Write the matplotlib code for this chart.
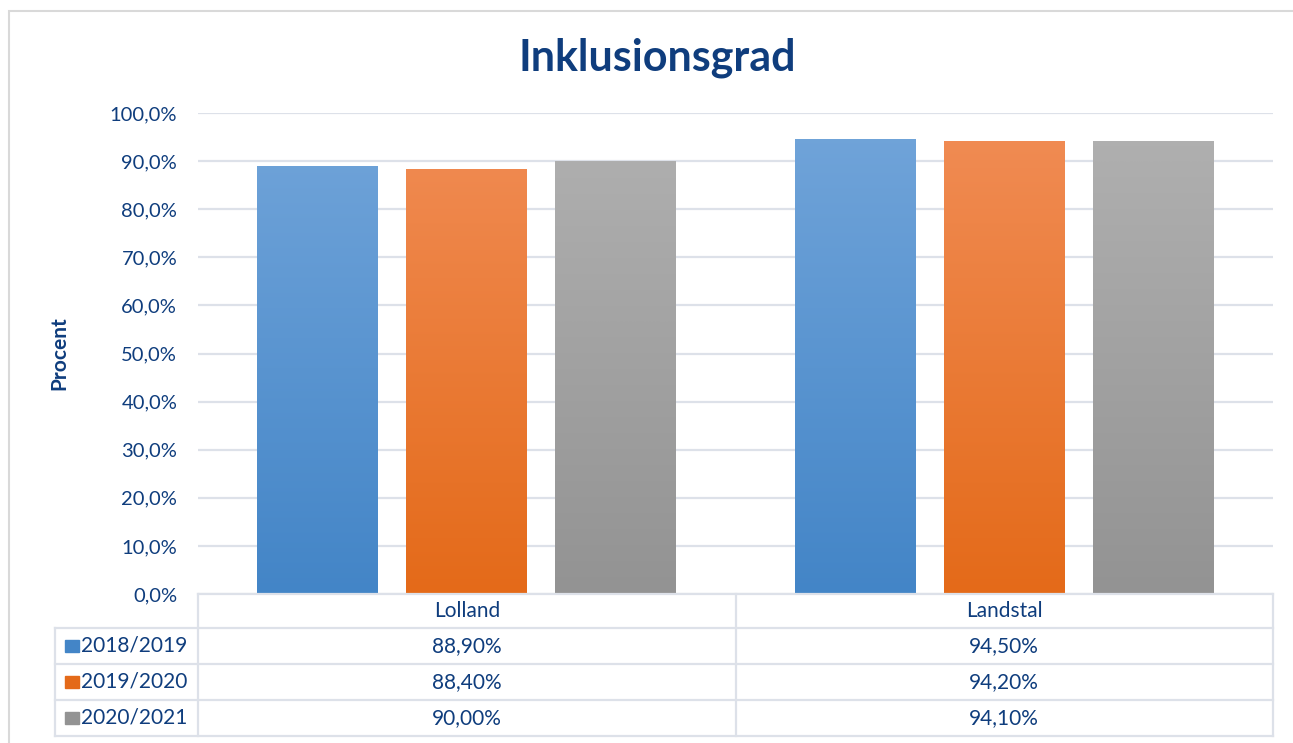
import numpy as np
import matplotlib.pyplot as plt
from matplotlib.patches import Rectangle, FancyBboxPatch
from matplotlib.colors import LinearSegmentedColormap

categories = ['Lolland', 'Landstal']
seasons = ['2018/2019', '2019/2020', '2020/2021']
values = [[88.9, 94.5],
          [88.4, 94.2],
          [90.0, 94.1]]
yticks = [0, 10, 20, 30, 40, 50, 60, 70, 80, 90, 100]

# top colour, bottom colour for each series
grads = [('#72a5da', '#4385c7'),
         ('#f18d56', '#e46a19'),
         ('#b1b1b1', '#939393')]

navy = '#0f3d7d'
linec = '#dde1e9'
plt.rcParams['font.family'] = ['Lato', 'DejaVu Sans']

W, H = 1293, 743
fig = plt.figure(figsize=(W / 100, H / 100), dpi=100)

def fx(x):
    return x / W

def fy(y):
    return 1 - y / H

# outer frame
fig.patches.append(FancyBboxPatch((fx(9), fy(760)), fx(1300) - fx(9), fy(11) - fy(760),
                                  boxstyle='square,pad=0', transform=fig.transFigure,
                                  fill=False, edgecolor='#d9d9d9', lw=1.5))

left, right, top, bottom = 198, 1273, 113, 594
ax = fig.add_axes([fx(left), fy(bottom), fx(right - left), fy(top) - fy(bottom)])
for s in ax.spines.values():
    s.set_visible(False)
ax.set_yticks(yticks)
ax.set_yticklabels([f'{t:.1f}%'.replace('.', ',') for t in yticks])
ax.tick_params(axis='y', length=0, pad=15, labelsize=14.5, labelcolor=navy)
ax.set_xticks([])
ax.grid(axis='y', color=linec, lw=1.6)
ax.set_axisbelow(True)

bw = 0.225
step = 0.277
x = np.arange(len(categories)) + 0.5
for i, (s, vals) in enumerate(zip(seasons, values)):
    pos = x + (i - 1) * step
    bars = ax.bar(pos, vals, width=bw, color=grads[i][1], zorder=2)
    cmap = LinearSegmentedColormap.from_list('g%d' % i, [grads[i][1], grads[i][0]])
    for b in bars:
        grad = np.linspace(0, 1, 256).reshape(-1, 1)
        im = ax.imshow(grad, cmap=cmap, aspect='auto', origin='lower',
                       extent=[b.get_x(), b.get_x() + b.get_width(), 0, 100],
                       zorder=3)
        im.set_clip_path(b)
ax.set_xlim(0, 2)
ax.set_ylim(0, 100)

fig.text(fx(59), fy(353), 'Procent', rotation=90, ha='center', va='center',
         fontsize=15, fontweight='bold', color=navy)

fig.text(fx(657), fy(58), 'Inklusionsgrad', ha='center', va='center',
         fontsize=31, fontweight='bold', color=navy)

# data table below the axis
rows_y = [594, 628, 664, 700, 736]
mid = (left + right) / 2
lw = 1.6
def hline(y, x0, x1):
    fig.add_artist(plt.Line2D([fx(x0), fx(x1)], [fy(y), fy(y)], color=linec, lw=lw))

def vline(xp, y0, y1):
    fig.add_artist(plt.Line2D([fx(xp), fx(xp)], [fy(y0), fy(y1)], color=linec, lw=lw))

hline(rows_y[0], left, right)
for y in rows_y[1:]:
    hline(y, 55, right)
vline(55, rows_y[1], rows_y[-1])
vline(left, rows_y[0], rows_y[-1])
vline(mid, rows_y[0], rows_y[-1])
vline(right, rows_y[0], rows_y[-1])

fs = 15
col_c = [(left + mid) / 2, (mid + right) / 2]
for j, c in enumerate(categories):
    fig.text(fx(col_c[j]), fy((rows_y[0] + rows_y[1]) / 2), c, ha='center', va='center',
             fontsize=fs, color=navy)
for i, s in enumerate(seasons):
    yc = (rows_y[i + 1] + rows_y[i + 2]) / 2
    fig.patches.append(Rectangle((fx(65), fy(yc + 6)), fx(14), fy(yc - 6) - fy(yc + 6),
                                 transform=fig.transFigure, color=grads[i][1]))
    fig.text(fx(81), fy(yc), s, ha='left', va='center', fontsize=fs, color=navy)
    for j in range(len(categories)):
        fig.text(fx(col_c[j]), fy(yc), f'{values[i][j]:.2f}%'.replace('.', ','),
                 ha='center', va='center', fontsize=fs, color=navy)

fig.savefig('out.png', dpi=100)
